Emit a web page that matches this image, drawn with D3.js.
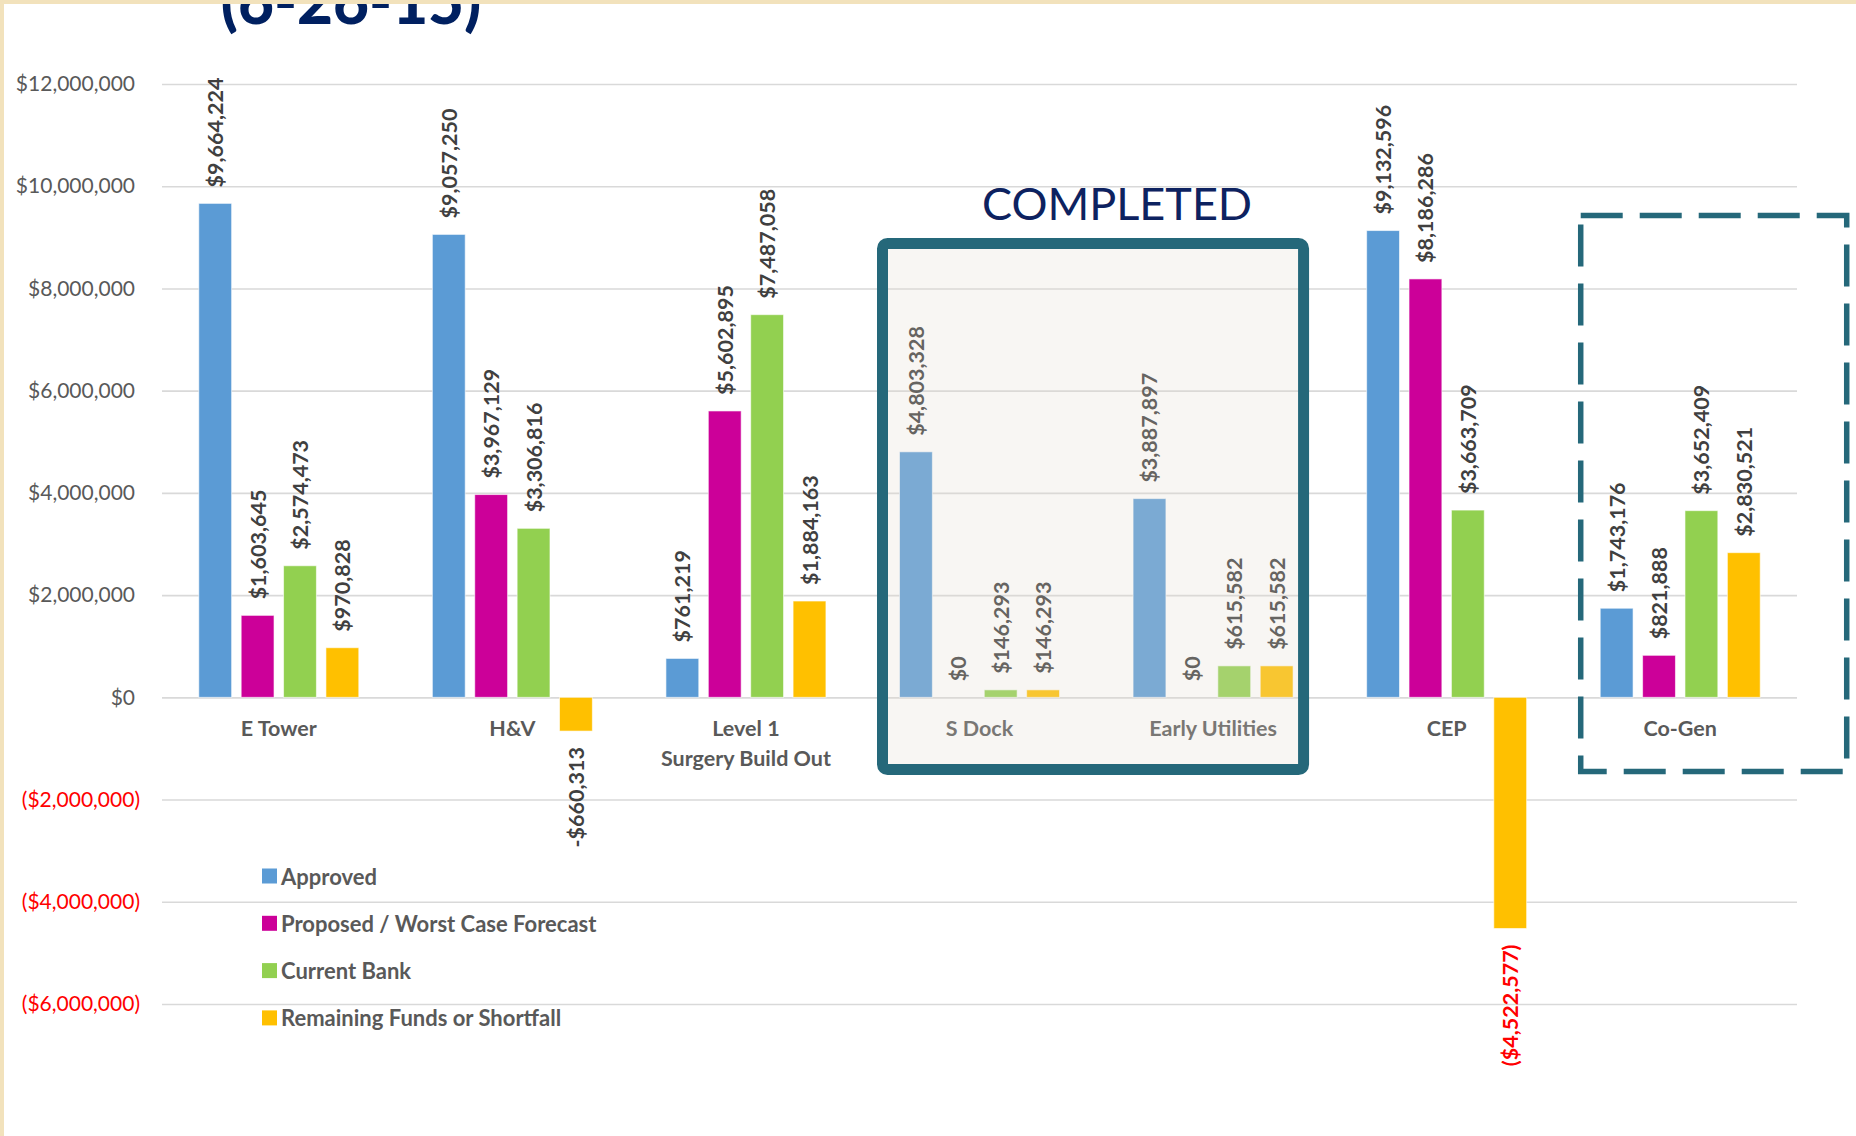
<!DOCTYPE html>
<html>
<head>
<meta charset="utf-8">
<script src="https://cdn.jsdelivr.net/npm/d3@7"></script>
<style>
  html, body { margin: 0; padding: 0; background: #f2e2bc; }
  svg { display: block; font-family: Lato, "Open Sans", sans-serif; }
</style>
</head>
<body>
<svg id="chart" width="1856" height="1136"></svg>
<script>
// data
const categories = ["E Tower", "H&V", "Level 1\nSurgery Build Out", "S Dock", "Early Utilities", "CEP", "Co-Gen"];
const seriesNames = ["Approved", "Proposed / Worst Case Forecast", "Current Bank", "Remaining Funds or Shortfall"];
const approved = [9664224, 9057250, 761219, 4803328, 3887897, 9132596, 1743176];
const proposed = [1603645, 3967129, 5602895, 0, 0, 8186286, 821888];
const currentBank = [2574473, 3306816, 7487058, 146293, 615582, 3663709, 3652409];
const remaining = [970828, -660313, 1884163, 146293, 615582, -4522577, 2830521];
const yTicks = [-6000000, -4000000, -2000000, 0, 2000000, 4000000, 6000000, 8000000, 10000000, 12000000];
const completedCats = ["S Dock", "Early Utilities"];
const pendingCats = ["Co-Gen"];
const parenNegatives = ["CEP"];   // these show ($x) in red, the others -$x

const colors = ["#5b9bd5", "#cc0099", "#92d050", "#ffc000"];
const series = [approved, proposed, currentBank, remaining];

const svg = d3.select("#chart");
const W = 1856, H = 1136;
const margin = { top: 84, right: 59, bottom: 132, left: 162 };

svg.append("rect").attr("x", 4).attr("y", 4).attr("width", W - 4).attr("height", H - 4).attr("fill", "#fff");

const x0 = d3.scaleBand()
    .domain(categories)
    .range([margin.left, W - margin.right])
    .paddingInner(0.315)
    .paddingOuter(0.1575);

const x1 = d3.scaleBand()
    .domain(d3.range(series.length))
    .range([0, x0.bandwidth()])
    .paddingInner(0.225);

const y = d3.scaleLinear()
    .domain([-6000000, 12000000])
    .range([H - margin.bottom, margin.top]);

const money = d3.format("$,.0f");
const fmtTick = (v) => v < 0 ? `(${money(-v)})` : money(v);

// gridlines + y labels
const yAxis = svg.append("g")
    .attr("transform", `translate(${margin.left},0)`)
    .call(d3.axisLeft(y).tickValues(yTicks).tickFormat(fmtTick)
        .tickSize(-(W - margin.left - margin.right)).tickPadding(22));
yAxis.select(".domain").remove();
yAxis.selectAll(".tick line").attr("stroke", "#d9d9d9").attr("stroke-width", 1.6);
yAxis.selectAll(".tick text")
    .attr("font-size", 21)
    .attr("font-family", "Lato")
    .attr("fill", (d) => d < 0 ? "#ff0000" : "#595959")
    .attr("x", (d) => d < 0 ? -22 : -27);

// category labels
const xAxis = svg.append("g")
    .attr("transform", `translate(0,${y(0)})`)
    .call(d3.axisBottom(x0).tickSize(0).tickPadding(0));
xAxis.select(".domain").remove();
xAxis.selectAll(".tick text").each(function (d) {
    const t = d3.select(this).text(null)
        .attr("font-size", 21.5).attr("font-weight", 700).attr("font-family", "Lato")
        .attr("fill", "#595959").attr("y", 31).attr("dy", null);
    d.split("\n").forEach((line, i) => {
        t.append("tspan").attr("x", 0).attr("y", 31 + i * 30).attr("dominant-baseline", "central").text(line);
    });
});

// bars
const rows = categories.map((c, i) => ({ cat: c, vals: series.map((s) => s[i]) }));
const groups = svg.append("g").selectAll("g")
    .data(rows)
    .join("g")
    .attr("transform", (d) => `translate(${x0(d.cat)},0)`);

groups.selectAll("rect")
    .data((d) => d.vals.map((v, k) => ({ v, k, cat: d.cat })))
    .join("rect")
    .attr("x", (d) => x1(d.k))
    .attr("width", x1.bandwidth())
    .attr("y", (d) => y(Math.max(0, d.v)))
    .attr("height", (d) => Math.abs(y(d.v) - y(0)))
    .attr("fill", (d) => colors[d.k])
    .attr("stroke", "rgba(255,255,255,0.6)")
    .attr("stroke-width", 1);

// value labels, rotated
const gap = 16;
groups.selectAll("text.val")
    .data((d) => d.vals.map((v, k) => ({ v, k, cat: d.cat })))
    .join("text")
    .attr("class", "val")
    .attr("transform", (d) => {
        const cx = x1(d.k) + x1.bandwidth() / 2;
        const yy = d.v < 0 ? y(d.v) + gap : y(d.v) - gap;
        return `translate(${cx},${yy}) rotate(-90)`;
    })
    .attr("text-anchor", (d) => d.v < 0 ? "end" : "start")
    .attr("dominant-baseline", "central")
    .attr("font-size", 21.5)
    .attr("font-weight", 700)
    .attr("fill", (d) => d.v < 0 && parenNegatives.includes(d.cat) ? "#ff0000" : "#404040")
    .text((d) => {
        if (d.v >= 0) return money(d.v);
        return parenNegatives.includes(d.cat) ? `(${money(-d.v)})` : `-${money(-d.v)}`;
    });

// "COMPLETED" box over the finished projects
const cFirst = x0(completedCats[0]);
const cLast = x0(completedCats[completedCats.length - 1]) + x0.bandwidth();
const boxL = cFirst - 17, boxR = cLast + 10.5;
const boxT = 243.5, boxB = 769.5;
svg.append("rect")
    .attr("x", boxL).attr("y", boxT).attr("width", boxR - boxL).attr("height", boxB - boxT)
    .attr("fill", "rgb(224,218,205)").attr("fill-opacity", 0.24);
svg.append("rect")
    .attr("x", boxL).attr("y", boxT).attr("width", boxR - boxL).attr("height", boxB - boxT)
    .attr("rx", 5).attr("fill", "none")
    .attr("stroke", "#25687a").attr("stroke-width", 11);
svg.append("text")
    .attr("x", (boxL + boxR) / 2 + 24).attr("y", 220)
    .attr("text-anchor", "middle")
    .attr("font-size", 45)
    .attr("font-family", "Lato")
    .attr("fill", "#0d2260")
    .text("COMPLETED");

// dashed box around the pending project
const pFirst = x0(pendingCats[0]);
svg.append("rect")
    .attr("x", pFirst - 19.5).attr("y", 215.5).attr("width", 266).attr("height", 556)
    .attr("fill", "none")
    .attr("stroke", "#25687a").attr("stroke-width", 5.5)
    .attr("stroke-dasharray", "42 17");

// legend
const legend = svg.append("g").attr("transform", "translate(262,876)");
const li = legend.selectAll("g").data(seriesNames).join("g")
    .attr("transform", (d, i) => `translate(0,${i * 47.3})`);
li.append("rect").attr("x", 0).attr("y", -7.5).attr("width", 15).attr("height", 15)
    .attr("fill", (d, i) => colors[i]);
li.append("text").attr("x", 19).attr("y", 0)
    .attr("dominant-baseline", "central")
    .attr("font-size", 22).attr("font-weight", 700)
    .attr("fill", "#595959")
    .text((d) => d);

// clipped title at the top
svg.append("text")
    .attr("x", 351).attr("y", 24)
    .attr("text-anchor", "middle")
    .attr("font-size", 62).attr("font-weight", 900)
    .attr("fill", "#002060")
    .text("(6-26-15)");
svg.append("rect").attr("x", 0).attr("y", 0).attr("width", W).attr("height", 4).attr("fill", "#f2e2bc");
</script>
</body>
</html>
